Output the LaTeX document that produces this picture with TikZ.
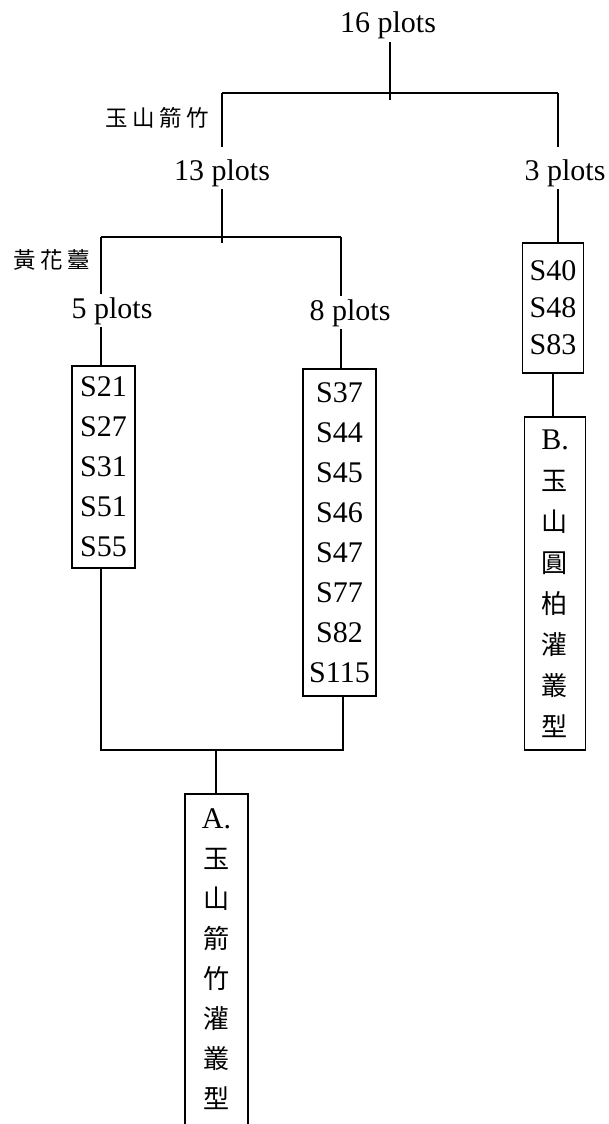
\documentclass[tikz,border=0pt]{standalone}
\usepackage{fontspec}
\setmainfont{Liberation Serif}
\newfontfamily\cjk{Noto Sans CJK TC}
\newfontfamily\cjkbig[Scale=0.87]{Noto Sans CJK TC}
\begin{document}
\begin{tikzpicture}[x=1pt,y=-1pt, line width=1.7pt,
  lbl/.style={font=\fontsize{30}{36}\selectfont, inner xsep=0pt, inner ysep=2pt, anchor=base},
  clab/.style={font=\cjk\fontsize{22.5}{24}\selectfont, inner sep=0pt},
  list/.style={draw, font=\fontsize{30}{40}\selectfont, align=center, inner sep=0pt},
]
\useasboundingbox (0,0) rectangle (608,1124);
% text labels
\node[lbl] (n16) at (388,33) {16 plots};
\node[lbl] (n13) at (222,180) {13 plots};
\node[lbl] (n3) at (565,180) {3 plots};
\node[lbl] (n5) at (112,318) {5 plots};
\node[lbl] (n8) at (350,320) {8 plots};
\node[clab] (l1) at (157,118) {玉\hspace{4.5pt}山\hspace{4.5pt}箭\hspace{4.5pt}竹};
\node[clab] (l2) at (52,260) {黃\hspace{4.5pt}花\hspace{4.5pt}薹};
% boxes
\node[list, minimum width=63pt, minimum height=202pt] (bL) at (103.5,467) {S21\\S27\\S31\\S51\\S55};
\node[list, minimum width=73pt, minimum height=327pt] (bR) at (339.5,532.5) {S37\\S44\\S45\\S46\\S47\\S77\\S82\\S115};
\node[list, font=\fontsize{30}{37}\selectfont, minimum width=61pt, minimum height=130pt] (bS) at (553,308) {S40\\S48\\S83};
\node[list, font=\fontsize{30}{41}\selectfont, minimum width=61pt, minimum height=333pt] (bB) at (555,583.5)
  {B.\\{\cjkbig 玉}\\{\cjkbig 山}\\{\cjkbig 圓}\\{\cjkbig 柏}\\{\cjkbig 灌}\\{\cjkbig 叢}\\{\cjkbig 型}};
\node[list, draw=none, minimum width=61pt, minimum height=329pt] (bA) at (216.5,959.5)
  {A.\\{\cjkbig 玉}\\{\cjkbig 山}\\{\cjkbig 箭}\\{\cjkbig 竹}\\{\cjkbig 灌}\\{\cjkbig 叢}\\{\cjkbig 型}};
\draw ([yshift=-12pt]bA.south west) -- (bA.north west) -- (bA.north east) -- ([yshift=-12pt]bA.south east);
% connectors
\coordinate (v1) at (390,100);
\coordinate (h1l) at (222,93);
\coordinate (h1r) at (558,93);
\coordinate (v2) at (222,243);
\coordinate (h2l) at (101,237);
\coordinate (h2r) at (341,237);
\coordinate (h3l) at (101,750);
\coordinate (h3r) at (343,750);
\coordinate (h3m) at (216,750);
\draw (v1 |- n16.south) -- (v1);
\draw (h1l) -- (h1r);
\draw[shorten >=9pt] (h1l) -- (n13.north);
\draw[shorten >=9pt] (h1r) -- (h1r |- n3.north);
\draw (n13.south) -- (v2);
\draw (h2l) -- (h2r);
\draw (h2l) -- (h2l |- n5.north);
\draw (h2r) -- (h2r |- n8.north);
\draw (h2l |- n5.south) -- (h2l |- bL.north);
\draw (h2r |- n8.south) -- (h2r |- bR.north);
\draw (h1r |- n3.south) -- (h1r |- bS.north);
\draw (h3l |- bL.south) -- (h3l) -- (h3r) -- (h3r |- bR.south);
\draw (h3m) -- (h3m |- bA.north);
\draw (bS.south) -- (bS.south |- bB.north);
\end{tikzpicture}
\end{document}
